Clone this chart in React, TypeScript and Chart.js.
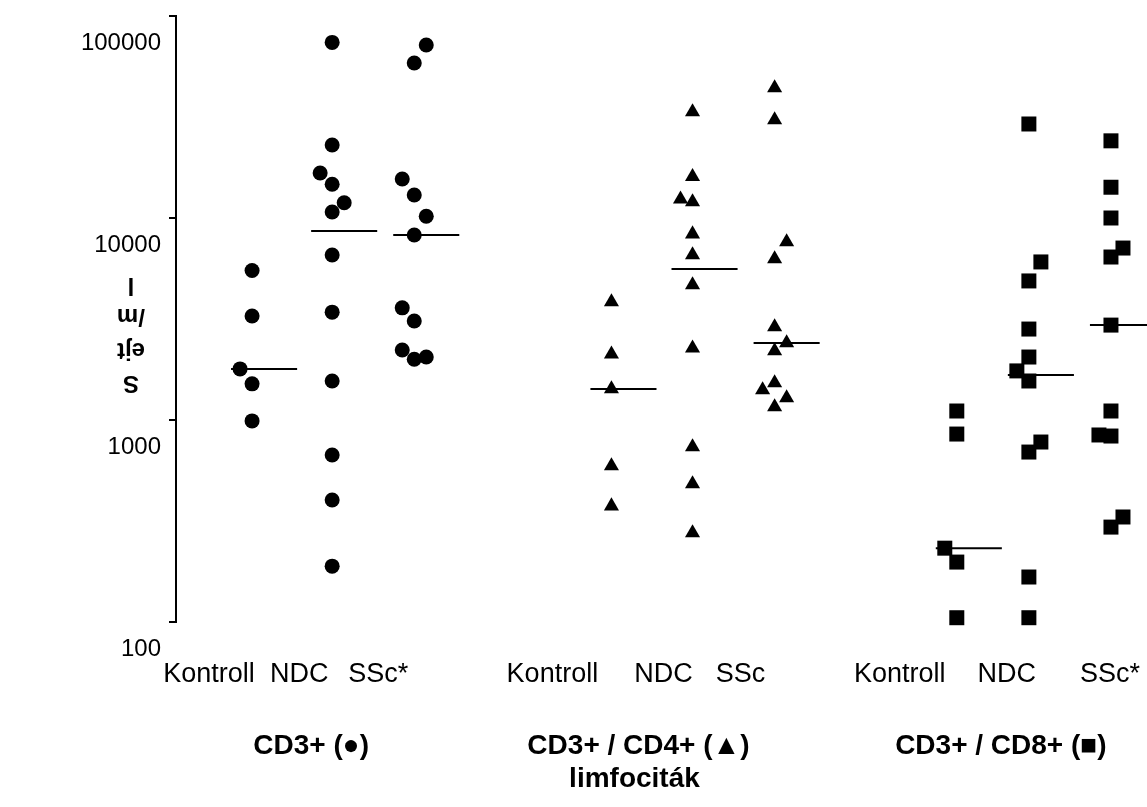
import { useEffect, useRef } from "react";
import { Chart, registerables } from "chart.js";

Chart.register(...registerables);

// Category tick labels along the bottom axis
const categoryLabels = ["Kontroll", "NDC", "SSc*", "Kontroll", "NDC", "SSc", "Kontroll", "NDC", "SSc*"];
const categoryTickX = [3.3, 12.3, 20.2, 37.6, 48.7, 56.4, 72.3, 83.0, 93.3];

// Group headings under the category labels
const groupTitles = ["CD3+ (●)", "CD3+ / CD4+ (▲)", "CD3+ / CD8+ (■)"];
const groupTitleX = [13.5, 46.2, 82.4];
const groupSubtitle = "limfociták";
const groupSubtitleX = 45.8;

// Y axis
const yTickValues = [100, 1000, 10000, 100000];
const yTitleLines = ["S", "ejt", "/m", "l"];

// Column centres on the x scale and the sideways step between touching markers
const columnX = [7.6, 15.6, 23.8, 43.5, 51.6, 59.8, 78.0, 85.2, 93.4];
const laneStep = 1.2;

// CD3+ cells/ml
const cd3Kontroll = [5500, 3270, 1790, 1510, 990];
const cd3KontrollLane = [0, 0, -1, 0, 0];
const cd3Ndc = [74000, 23000, 16700, 14700, 11900, 10700, 6560, 3420, 1560, 671, 402, 189];
const cd3NdcLane = [0, 0, -1, 0, 1, 0, 0, 0, 0, 0, 0, 0];
const cd3Ssc = [71800, 58500, 15600, 13000, 10200, 8240, 3590, 3090, 2220, 2000, 2050];
const cd3SscLane = [1, 0, -1, 0, 1, 0, -1, 0, -1, 0, 1];

// CD3+/CD4+ cells/ml
const cd4Kontroll = [3840, 2120, 1424, 592, 375];
const cd4KontrollLane = [0, 0, 0, 0, 0];
const cd4Ndc = [33500, 16000, 12400, 12000, 8330, 6560, 4660, 2270, 735, 482, 276];
const cd4NdcLane = [0, 0, -1, 0, 0, 0, 0, 0, 0, 0, 0];
const cd4Ssc = [44000, 30600, 7610, 6270, 2890, 2410, 2200, 1525, 1410, 1285, 1160];
const cd4SscLane = [0, 0, 1, 0, 0, 1, 0, 0, -1, 1, 0];

// CD3+/CD8+ cells/ml
const cd8Kontroll = [1108, 852, 232, 198, 105];
const cd8KontrollLane = [0, 0, -1, 0, 0];
const cd8Ndc = [29200, 6060, 4880, 2820, 2050, 1750, 1560, 778, 694, 167, 105];
const cd8NdcLane = [0, 1, 0, 0, 0, -1, 0, 1, 0, 0, 0];
const cd8Ssc = [24100, 14200, 10000, 7100, 6410, 2950, 1108, 843, 833, 331, 295];
const cd8SscLane = [0, 0, 0, 1, 0, 0, 0, -1, 0, 1, 0];

// Median of each column
const medians = [1790, 8620, 8240, 1424, 5590, 2404, 232, 1670, 2950];
const medianFrom = -2.1;
const medianTo = 4.5;

const FONT = "Arial, 'Liberation Sans', Helvetica, sans-serif";

type Marker = { style: "circle" | "triangle" | "rect"; radius: number };
const circle: Marker = { style: "circle", radius: 7.5 };
const triangle: Marker = { style: "triangle", radius: 8.7 };
const square: Marker = { style: "rect", radius: 10.6 };

const columns: { values: number[]; lanes: number[]; marker: Marker }[] = [
  { values: cd3Kontroll, lanes: cd3KontrollLane, marker: circle },
  { values: cd3Ndc, lanes: cd3NdcLane, marker: circle },
  { values: cd3Ssc, lanes: cd3SscLane, marker: circle },
  { values: cd4Kontroll, lanes: cd4KontrollLane, marker: triangle },
  { values: cd4Ndc, lanes: cd4NdcLane, marker: triangle },
  { values: cd4Ssc, lanes: cd4SscLane, marker: triangle },
  { values: cd8Kontroll, lanes: cd8KontrollLane, marker: square },
  { values: cd8Ndc, lanes: cd8NdcLane, marker: square },
  { values: cd8Ssc, lanes: cd8SscLane, marker: square },
];

const textPlugin = {
  id: "groupText",
  afterDraw(chart: any) {
    const { ctx, scales } = chart;
    const xs = scales.x;
    ctx.save();
    ctx.fillStyle = "#000";
    ctx.textAlign = "center";
    ctx.textBaseline = "middle";
    ctx.font = `bold 28px ${FONT}`;
    groupTitles.forEach((t, i) => ctx.fillText(t, xs.getPixelForValue(groupTitleX[i]), 746));
    ctx.fillText(groupSubtitle, xs.getPixelForValue(groupSubtitleX), 779);

    // axis title, written as stacked pieces turned upside down
    ctx.font = `bold 24px ${FONT}`;
    const ys = [285, 316, 350, 383];
    yTitleLines.forEach((t, i) => {
      ctx.save();
      ctx.translate(131, ys[yTitleLines.length - 1 - i]);
      ctx.rotate(Math.PI);
      ctx.fillText(t, 0, 0);
      ctx.restore();
    });
    ctx.restore();
  },
};

export default function App() {
  const ref = useRef<HTMLCanvasElement>(null);

  useEffect(() => {
    if (!ref.current) return;

    const pointSets = columns.map((c, i) => ({
      type: "scatter" as const,
      data: c.values.map((v, k) => ({ x: columnX[i] + c.lanes[k] * laneStep, y: v })),
      pointStyle: c.marker.style,
      pointRadius: c.marker.radius,
      pointHoverRadius: c.marker.radius,
      backgroundColor: "#000",
      borderColor: "#000",
      borderWidth: 0,
      showLine: false,
      clip: false,
    }));

    const medianSets = medians.map((m, i) => ({
      type: "line" as const,
      data: [
        { x: columnX[i] + medianFrom, y: m },
        { x: columnX[i] + medianTo, y: m },
      ],
      borderColor: "#000",
      borderWidth: 2,
      pointRadius: 0,
      fill: false,
    }));

    const chart = new Chart(ref.current, {
      type: "scatter",
      data: { datasets: [...medianSets, ...pointSets] as any },
      options: {
        responsive: false,
        animation: false,
        events: [],
        layout: { autoPadding: false, padding: { top: 16, left: 0, right: 0, bottom: 0 } },
        plugins: { legend: { display: false }, tooltip: { enabled: false } },
        scales: {
          x: {
            type: "linear",
            min: 0,
            max: 97,
            grid: { display: false },
            border: { display: false },
            afterBuildTicks: (s: any) => {
              s.ticks = categoryTickX.map((v) => ({ value: v }));
            },
            afterFit: (s: any) => {
              s.height = 185;
              s.paddingLeft = 0;
              s.paddingRight = 0;
            },
            ticks: {
              autoSkip: false,
              maxRotation: 0,
              minRotation: 0,
              padding: 28,
              color: "#000",
              font: { family: FONT, size: 27 },
              callback: (_v: any, i: number) => categoryLabels[i],
            },
          },
          y: {
            type: "logarithmic",
            min: 100,
            max: 100000,
            afterBuildTicks: (s: any) => {
              s.ticks = yTickValues.map((v) => ({ value: v }));
            },
            afterFit: (s: any) => {
              s.width = 176;
              s.paddingTop = 0;
              s.paddingBottom = 0;
            },
            grid: { drawOnChartArea: false, drawTicks: true, tickLength: 7, color: "#000", lineWidth: 2 },
            border: { display: true, color: "#000", width: 2 },
            ticks: {
              labelOffset: 27,
              padding: 8,
              color: "#000",
              font: { family: FONT, size: 24 },
              callback: (v: any) => String(v),
            },
          },
        },
      },
      plugins: [textPlugin],
    });

    return () => chart.destroy();
  }, []);

  return (
    <div style={{ position: "absolute", left: 0, top: 0, width: 1147, height: 807, background: "#fff" }}>
      <canvas ref={ref} width={1147} height={807} style={{ width: 1147, height: 807, display: "block" }} />
    </div>
  );
}
